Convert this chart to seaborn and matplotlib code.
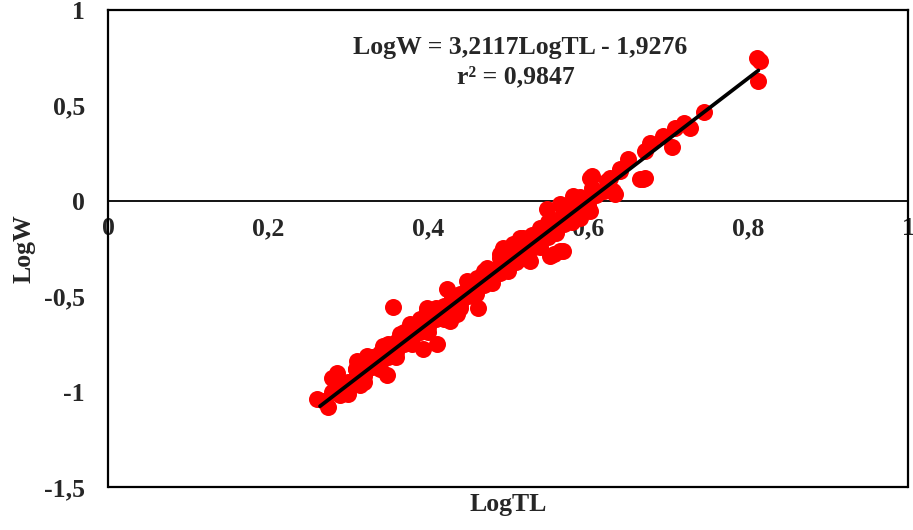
import numpy as np
import pandas as pd
import matplotlib
matplotlib.use("Agg")
import matplotlib.pyplot as plt
import seaborn as sns

# LogTL / LogW values
logtl = [0.811, 0.815, 0.8125, 0.745, 0.7275, 0.72, 0.709, 0.705, 0.694, 0.6775,
         0.671, 0.671, 0.665, 0.65, 0.64, 0.6275, 0.605, 0.605, 0.634, 0.581,
         0.549, 0.565, 0.6025, 0.631, 0.624, 0.669, 0.64, 0.565, 0.5525, 0.54,
         0.519, 0.506, 0.49, 0.474, 0.6025, 0.59, 0.569, 0.557, 0.515, 0.494,
         0.461, 0.449, 0.424, 0.4625, 0.436, 0.399, 0.5275, 0.356, 0.411, 0.394,
         0.365, 0.344, 0.324, 0.311, 0.286, 0.286, 0.261, 0.275, 0.299, 0.315,
         0.349, 0.336, 0.3775, 0.399, 0.4275,
         0.27, 0.28, 0.28, 0.29, 0.29, 0.30, 0.30, 0.31, 0.31, 0.32,
         0.32, 0.33, 0.33, 0.34, 0.34, 0.35, 0.35, 0.36, 0.36, 0.37,
         0.37, 0.38, 0.38, 0.39, 0.39, 0.40, 0.40, 0.41, 0.41, 0.42,
         0.42, 0.43, 0.43, 0.44, 0.44, 0.45, 0.45, 0.46, 0.46, 0.47,
         0.47, 0.48, 0.48, 0.49, 0.49, 0.50, 0.50, 0.51, 0.51, 0.52,
         0.52, 0.53, 0.53, 0.54, 0.54, 0.55, 0.55, 0.56, 0.56, 0.57,
         0.57, 0.58, 0.58, 0.59, 0.59, 0.60, 0.61, 0.62,
         0.31, 0.33, 0.35, 0.37, 0.39, 0.41, 0.43, 0.45, 0.47, 0.49,
         0.51, 0.53, 0.55, 0.57, 0.59,
         0.30, 0.32, 0.34, 0.36, 0.38, 0.40, 0.42, 0.44, 0.46, 0.48,
         0.50, 0.52, 0.54, 0.56, 0.58, 0.60]
logw = [0.747, 0.732, 0.626, 0.463, 0.384, 0.41, 0.379, 0.284, 0.342, 0.305,
        0.263, 0.121, 0.116, 0.221, 0.168, 0.121, 0.132, 0.068, 0.037, 0.026,
        -0.042, -0.016, 0.121, 0.053, 0.105, 0.116, 0.158, -0.263, -0.289, -0.142,
        -0.195, -0.226, -0.279, -0.353, -0.053, -0.089, -0.263, -0.28, -0.195, -0.247,
        -0.405, -0.421, -0.463, -0.563, -0.595, -0.563, -0.316, -0.558, -0.753, -0.779,
        -0.70, -0.763, -0.816, -0.842, -0.905, -0.958, -1.037, -1.079, -1.0, -0.963,
        -0.911, -0.826, -0.647, -0.579, -0.632,
        -1.05, -1.00, -0.93, -0.98, -1.02, -0.95, -0.99, -0.93, -0.88, -0.92,
        -0.86, -0.87, -0.84, -0.85, -0.80, -0.82, -0.77, -0.79, -0.74, -0.75,
        -0.71, -0.72, -0.68, -0.69, -0.64, -0.66, -0.61, -0.62, -0.59, -0.60,
        -0.55, -0.56, -0.52, -0.54, -0.49, -0.50, -0.46, -0.47, -0.43, -0.44,
        -0.40, -0.41, -0.37, -0.38, -0.34, -0.35, -0.30, -0.32, -0.27, -0.29,
        -0.24, -0.25, -0.21, -0.22, -0.17, -0.19, -0.14, -0.16, -0.10, -0.12,
        -0.07, -0.09, -0.04, -0.05, -0.01, -0.02, 0.03, 0.05,
        -0.88, -0.82, -0.75, -0.69, -0.62, -0.56, -0.50, -0.43, -0.37, -0.30,
        -0.24, -0.18, -0.11, -0.05, 0.02,
        -1.01, -0.95, -0.88, -0.82, -0.75, -0.69, -0.62, -0.56, -0.49, -0.43,
        -0.37, -0.30, -0.24, -0.17, -0.11, -0.05]

# fitted line as printed on the chart
slope = 3.2117
intercept = -1.9276
fit_range = [0.265, 0.813]
eq_text = "LogW = 3,2117LogTL - 1,9276"
r2_text = "r² = 0,9847"

xticks = [0, 0.2, 0.4, 0.6, 0.8, 1]
xtick_labels = ["0", "0,2", "0,4", "0,6", "0,8", "1"]
yticks = [-1.5, -1, -0.5, 0, 0.5, 1]
ytick_labels = ["-1,5", "-1", "-0,5", "0", "0,5", "1"]

df = pd.DataFrame({"LogTL": logtl, "LogW": logw})

sns.set_style("white")
plt.rcParams['font.family'] = ['Liberation Serif', 'DejaVu Serif']
plt.rcParams['font.weight'] = 'bold'
fs = 18.5

fig = plt.figure(figsize=(9.13, 5.30), dpi=100)
ax = fig.add_axes([108/913, 1-487/530, 800/913, 477/530])

sns.scatterplot(data=df, x="LogTL", y="LogW", ax=ax, color="#ff0000",
                s=150, linewidth=0, alpha=1, zorder=3)

fx = np.array(fit_range)
ax.plot(fx, slope*fx + intercept, color="black", lw=2.7, zorder=4)

ax.set_xlim(0, 1)
ax.set_ylim(-1.5, 1)
ax.set_xticks(xticks)
ax.set_xticklabels(xtick_labels)
ax.set_yticks(yticks)
ax.set_yticklabels(ytick_labels)

# horizontal axis crosses at 0, plot box stays around the area
ax.spines['bottom'].set_position(('data', 0))
ax.spines['bottom'].set_linewidth(1.3)
for s in ['left', 'right', 'top']:
    ax.spines[s].set_linewidth(1.6)
    ax.spines[s].set_color("black")
ax.spines['bottom'].set_color("black")
ax.plot([0, 1], [0, 0], transform=ax.transAxes, color="black", lw=1.6, clip_on=False)

ax.tick_params(axis='x', length=0, pad=12, labelsize=fs)
ax.tick_params(axis='y', length=0, pad=16.5, labelsize=fs)
for lab in ax.get_xticklabels() + ax.get_yticklabels():
    lab.set_fontweight('bold')

ax.set_xlabel("LogTL", fontsize=fs, fontweight='bold')
ax.set_ylabel("LogW", fontsize=fs, fontweight='bold')
ax.xaxis.set_label_coords(0.5, -0.012)
ax.yaxis.set_label_coords(-0.09, 0.5)

ax.text(0.515, 0.922, eq_text, transform=ax.transAxes, ha='center', va='center',
        fontsize=fs, fontweight='bold')
ax.text(0.51, 0.86, r2_text, transform=ax.transAxes, ha='center', va='center',
        fontsize=fs, fontweight='bold')

fig.savefig("out.png", dpi=100)
